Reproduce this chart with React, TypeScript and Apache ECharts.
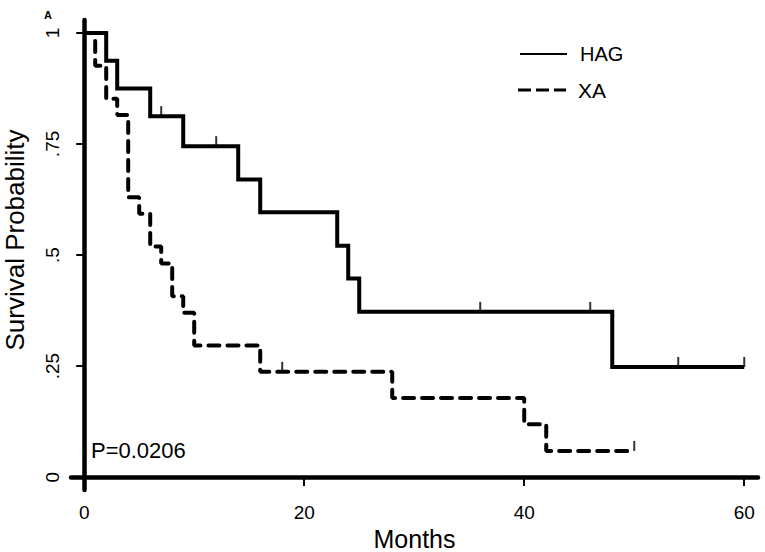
import React, { useEffect, useRef } from 'react';
import * as echarts from 'echarts';

const hagMonths = [0, 2, 3, 6, 9, 14, 16, 23, 24, 25, 48, 60];
const hagSurvival = [1, 0.9375, 0.875, 0.8125, 0.745, 0.67, 0.596, 0.521, 0.447, 0.372, 0.248, 0.248];
const hagCensorMonths = [7, 12, 36, 46, 54, 60];
const hagCensorSurvival = [0.8125, 0.745, 0.372, 0.372, 0.248, 0.248];

const xaMonths = [0, 1, 2, 3, 4, 5, 6, 7, 8, 9, 10, 16, 28, 40, 42, 50];
const xaSurvival = [1, 0.926, 0.852, 0.815, 0.63, 0.593, 0.519, 0.481, 0.407, 0.37, 0.296, 0.237, 0.178, 0.119, 0.059, 0.059];
const xaCensorMonths = [18, 50];
const xaCensorSurvival = [0.237, 0.059];

const xTicks = [0, 20, 40, 60];
const yTicks = [0, 0.25, 0.5, 0.75, 1];
const yTickLabels = ['0', '.25', '.5', '.75', '1'];

const seriesNames = ['HAG', 'XA'];
const pValueText = 'P=0.0206';

const FONT = '"Liberation Sans", Arial, sans-serif';

export default function App() {
  const ref = useRef<HTMLDivElement>(null);
  useEffect(() => {
    const chart = echarts.init(ref.current!, null, { renderer: 'svg' });
    const pair = (xs: number[], ys: number[]) => xs.map((x, i) => [x, ys[i]]);
    chart.setOption({
      animation: false,
      backgroundColor: '#fff',
      grid: { left: 71, top: 20, right: 7, bottom: 62, containLabel: false, outerBoundsMode: 'none' },
      xAxis: {
        type: 'value',
        min: -1.2,
        max: 61.25,
        splitLine: { show: false },
        axisLine: { show: true, lineStyle: { color: '#000', width: 4.5 } },
        axisTick: { show: true, inside: false, customValues: xTicks, length: 9, lineStyle: { color: '#000', width: 2 } },
        axisLabel: {
          customValues: xTicks,
          color: '#000',
          fontSize: 19,
          fontFamily: FONT,
          margin: 13,
          formatter: (v: number) => String(v),
        },
        name: 'Months',
        nameLocation: 'middle',
        nameGap: 32,
        nameTextStyle: { color: '#000', fontSize: 25, fontFamily: FONT, lineHeight: 25 },
      },
      yAxis: {
        type: 'value',
        min: -0.029,
        max: 1.029,
        splitLine: { show: false },
        axisLine: { show: true, lineStyle: { color: '#000', width: 4.5 } },
        axisTick: { show: true, inside: false, customValues: yTicks, length: 8, lineStyle: { color: '#000', width: 2 } },
        axisLabel: {
          customValues: yTicks,
          color: '#000',
          fontSize: 19,
          fontFamily: FONT,
          rotate: 90,
          margin: 9,
          formatter: (v: number) => {
            const i = yTicks.findIndex((t) => Math.abs(t - v) < 1e-6);
            return i >= 0 ? yTickLabels[i] : '';
          },
        },
      },
      graphic: [
        {
          type: 'text',
          x: 15,
          y: 240,
          rotation: Math.PI / 2,
          style: { text: 'Survival Probability', font: `26px ${FONT}`, fill: '#000', align: 'center', verticalAlign: 'middle' },
        },
        {
          type: 'text',
          x: 48,
          y: 15,
          style: { text: 'A', font: `bold 11px ${FONT}`, fill: '#000', align: 'center', verticalAlign: 'middle' },
        },
        {
          type: 'text',
          x: 91,
          y: 450,
          style: { text: pValueText, font: `22px ${FONT}`, fill: '#000', align: 'left', verticalAlign: 'middle' },
        },
        {
          type: 'line',
          shape: { x1: 520, y1: 54, x2: 567, y2: 54 },
          style: { stroke: '#000', lineWidth: 2 },
        },
        {
          type: 'line',
          shape: { x1: 518, y1: 90, x2: 566, y2: 90 },
          style: { stroke: '#000', lineWidth: 3, lineDash: [13, 5] },
        },
        {
          type: 'text',
          x: 580,
          y: 54,
          style: { text: seriesNames[0], font: `20px ${FONT}`, fill: '#000', align: 'left', verticalAlign: 'middle' },
        },
        {
          type: 'text',
          x: 578,
          y: 90,
          style: { text: seriesNames[1], font: `21px ${FONT}`, fill: '#000', align: 'left', verticalAlign: 'middle' },
        },
      ],
      series: [
        {
          name: seriesNames[0],
          type: 'line',
          step: 'end',
          data: pair(hagMonths, hagSurvival),
          showSymbol: false,
          symbol: 'none',
          lineStyle: { color: '#000', width: 4, join: 'miter' },
          z: 3,
        },
        {
          name: seriesNames[1],
          type: 'line',
          step: 'end',
          data: pair(xaMonths, xaSurvival),
          showSymbol: false,
          symbol: 'none',
          lineStyle: { color: '#000', width: 4, type: [11, 8], cap: 'round' },
          z: 3,
        },
        {
          name: seriesNames[0] + ' censored',
          type: 'scatter',
          data: pair(hagCensorMonths, hagCensorSurvival),
          symbol: 'rect',
          symbolSize: [2, 10],
          symbolOffset: [0, -5],
          itemStyle: { color: '#000' },
          z: 4,
        },
        {
          name: seriesNames[1] + ' censored',
          type: 'scatter',
          data: pair(xaCensorMonths, xaCensorSurvival),
          symbol: 'rect',
          symbolSize: [2, 10],
          symbolOffset: [0, -5],
          itemStyle: { color: '#000' },
          z: 4,
        },
      ],
    });
    return () => chart.dispose();
  }, []);
  return <div ref={ref} style={{ position: 'fixed', left: 0, top: 0, width: 765, height: 552 }} />;
}
